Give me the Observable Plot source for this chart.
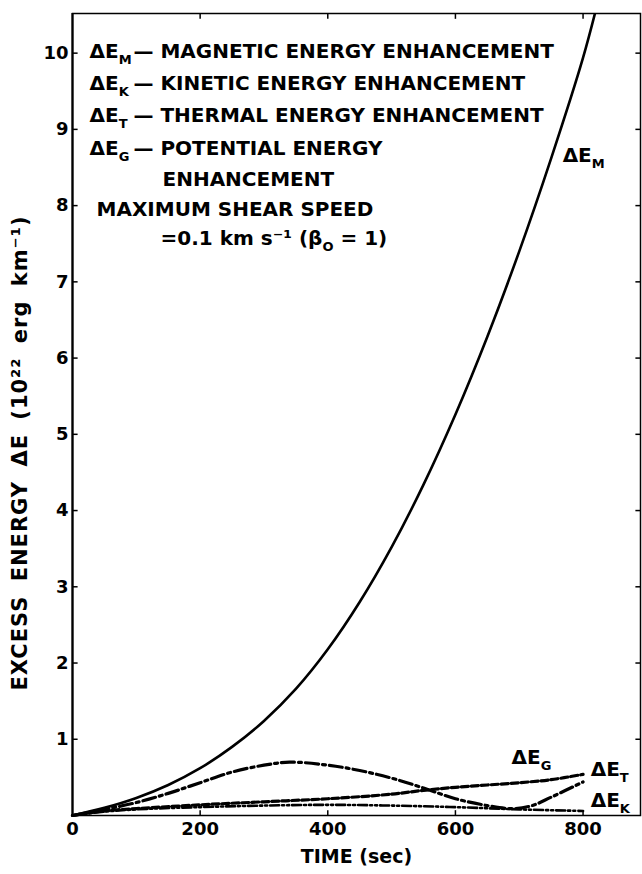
<!DOCTYPE html>
<html><head><meta charset="utf-8">
<script src="https://cdn.jsdelivr.net/npm/d3@7"></script>
<script src="https://cdn.jsdelivr.net/npm/@observablehq/plot@0.6"></script>
<style>body{margin:0;background:#fff}</style>
</head><body><div id="chart"></div>
<script>
// ---- data ----
const timeM = [0, 50, 100, 150, 200, 250, 300, 350, 400, 450, 500, 550, 600, 650, 700, 750, 800, 830];
const energyM = [0, 0.10, 0.23, 0.40, 0.62, 0.90, 1.24, 1.66, 2.18, 2.80, 3.52, 4.34, 5.26, 6.28, 7.40, 8.62, 9.94, 10.9];
const timeT = [0, 50, 100, 150, 200, 250, 300, 340, 400, 450, 500, 550, 600, 650, 690, 720, 750, 800];
const energyT = [0, 0.08, 0.17, 0.29, 0.43, 0.57, 0.66, 0.70, 0.66, 0.59, 0.49, 0.36, 0.22, 0.13, 0.09, 0.13, 0.24, 0.44];
const timeG = [0, 50, 100, 200, 300, 400, 500, 550, 600, 650, 700, 750, 800];
const energyG = [0, 0.06, 0.09, 0.14, 0.18, 0.22, 0.28, 0.33, 0.37, 0.40, 0.43, 0.47, 0.54];
const timeK = [0, 50, 100, 200, 300, 400, 500, 600, 700, 800];
const energyK = [0, 0.05, 0.08, 0.11, 0.13, 0.14, 0.13, 0.11, 0.08, 0.06];

const xTickValues = [0, 200, 400, 600, 800];
const xInnerTicks = [200, 400, 600, 800];
const yTickValues = [1, 2, 3, 4, 5, 6, 7, 8, 9, 10];
const xMax = 890, yMax = 10.52;

const curveLabels = ["ΔE_M", "ΔE_G", "ΔE_T", "ΔE_K"];
const curveLabelT = [768, 688, 812, 812];
const curveLabelE = [8.65, 0.76, 0.60, 0.20];

const legendKeys = ["ΔE_M", "ΔE_K", "ΔE_T", "ΔE_G"];
const legendDescs = ["— MAGNETIC ENERGY ENHANCEMENT", "— KINETIC ENERGY ENHANCEMENT", "— THERMAL ENERGY ENHANCEMENT", "— POTENTIAL ENERGY"];
const legendExtra = ["ENHANCEMENT", "MAXIMUM SHEAR SPEED", "=0.1 km s⁻¹ (β_O = 1)"];
const yLabel = "EXCESS ENERGY ΔE (10²² erg km⁻¹)";
const xLabel = "TIME (sec)";

const series = (t, e) => t.map((v, i) => ({t: v, e: e[i]}));
const M = series(timeM, energyM), T = series(timeT, energyT), G = series(timeG, energyG), K = series(timeK, energyK);
const labels = curveLabels.map((s, i) => ({s, t: curveLabelT[i], e: curveLabelE[i]}));

const FONT = 20;
const note = (str, px, py, size = FONT) => Plot.text([str], {
  frameAnchor: "top-left", dx: px - 72, dy: py - 13, textAnchor: "start", lineAnchor: "middle", fontSize: size
});
const legendRows = [51, 83, 115, 148];

const chart = Plot.plot({
  width: 642, height: 874,
  marginLeft: 72, marginRight: 2, marginTop: 13, marginBottom: 59,
  x: {domain: [0, xMax]},
  y: {domain: [0, yMax]},
  style: {fontFamily: "DejaVu Sans", fontWeight: "bold", fontSize: "18px", background: "white", color: "black", overflow: "visible"},
  marks: [
    Plot.frame({stroke: "black", strokeWidth: 1.5}),
    Plot.ruleX([0], {stroke: "black", strokeWidth: 2.2}),
    Plot.axisX({ticks: xTickValues, tickSize: 0, tickPadding: 7, label: null, fontSize: 18}),
    Plot.axisY({ticks: yTickValues, tickSize: 0, tickPadding: 4, label: null, fontSize: 18}),
    // inward ticks on all four sides
    Plot.link(yTickValues, {x1: 0, x2: 8, y1: d => d, y2: d => d, strokeWidth: 1.5}),
    Plot.link(yTickValues, {x1: xMax - 8, x2: xMax, y1: d => d, y2: d => d, strokeWidth: 1.5}),
    Plot.link(xInnerTicks, {x1: d => d, x2: d => d, y1: 0, y2: 0.07, strokeWidth: 1.5}),
    Plot.link(xInnerTicks, {x1: d => d, x2: d => d, y1: yMax - 0.07, y2: yMax, strokeWidth: 1.5}),
    // curves
    Plot.line(M, {x: "t", y: "e", curve: "catmull-rom", stroke: "black", strokeWidth: 2.6, clip: true}),
    Plot.line(T, {x: "t", y: "e", curve: "catmull-rom", stroke: "black", strokeWidth: 3.2, strokeDasharray: "13,4,3,4"}),
    Plot.line(G, {x: "t", y: "e", curve: "catmull-rom", stroke: "black", strokeWidth: 3.2, strokeDasharray: "7,3"}),
    Plot.line(K, {x: "t", y: "e", curve: "catmull-rom", stroke: "black", strokeWidth: 2.6, strokeDasharray: "9,3,2,3,2,3"}),
    Plot.text(labels, {x: "t", y: "e", text: "s", textAnchor: "start", fontSize: FONT}),
    // legend block
    ...legendKeys.map((k, i) => note(k, 89, legendRows[i])),
    ...legendDescs.map((d, i) => note(d, 133, legendRows[i])),
    note(legendExtra[0], 162, 179),
    note(legendExtra[1], 96, 209),
    note(legendExtra[2], 160, 238),
    // axis titles
    Plot.text([yLabel], {frameAnchor: "left", dx: -52, dy: 690 - 414, rotate: -90, textAnchor: "start", fontSize: 21}),
    Plot.text([xLabel], {frameAnchor: "bottom", dy: 47, fontSize: 19})
  ]
});

const ns = "http://www.w3.org/2000/svg";
chart.querySelectorAll("text").forEach(el => {
  const s = el.textContent;
  if (s === yLabel) { el.style.letterSpacing = "1px"; el.style.wordSpacing = "6px"; return; }
  if (!s.includes("_")) return;
  // turn "_X" into subscripts
  const parts = s.split(/_(.)/);
  while (el.firstChild) el.removeChild(el.firstChild);
  let shifted = false;
  parts.forEach((p, i) => {
    if (p === "") return;
    const ts = document.createElementNS(ns, "tspan");
    ts.textContent = p;
    if (i % 2 === 1) { ts.setAttribute("dy", "6"); ts.setAttribute("font-size", "13"); shifted = true; }
    else if (shifted) { ts.setAttribute("dy", "-6"); shifted = false; }
    el.appendChild(ts);
  });
});
document.getElementById("chart").appendChild(chart);
</script>
</body></html>
